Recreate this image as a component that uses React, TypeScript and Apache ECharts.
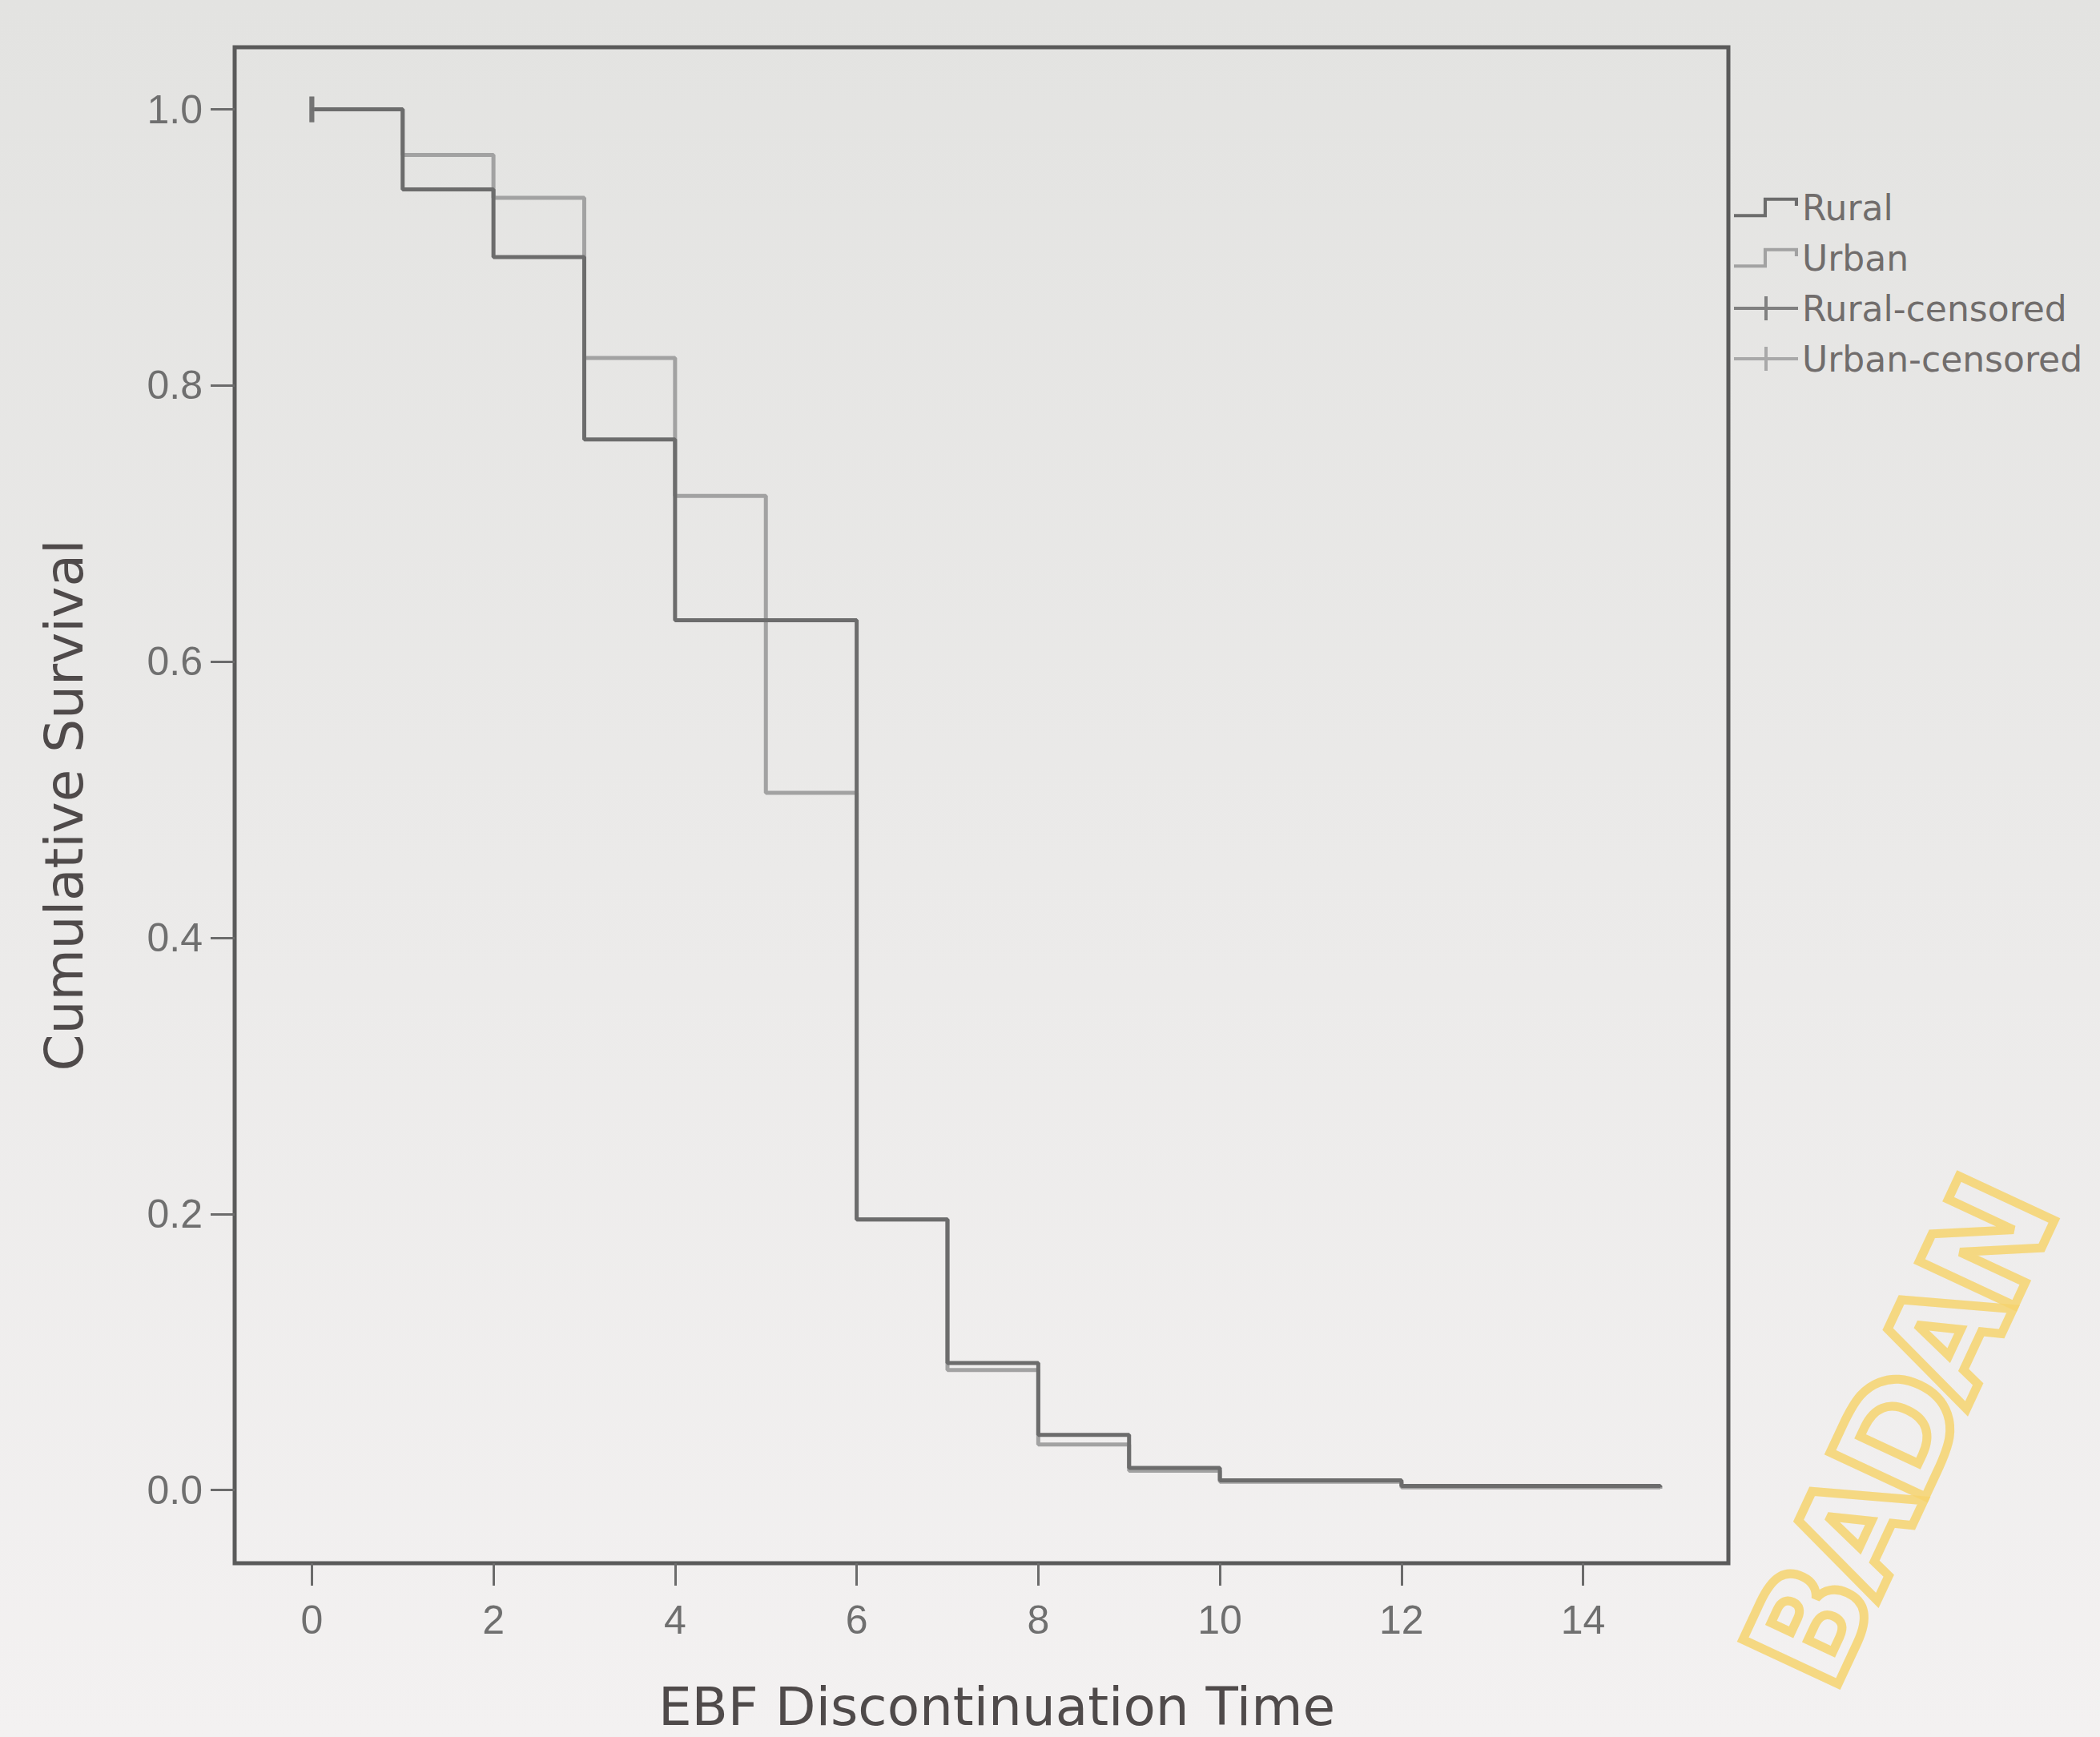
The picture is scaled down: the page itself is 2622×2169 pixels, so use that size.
import React, { useEffect, useRef } from "react";
import * as echarts from "echarts";

// ---- data ----
const ruralTimes = [0, 1, 2, 3, 4, 5, 6, 7, 8, 9, 10, 12, 14.85];
const ruralSurvival = [1.0, 0.942, 0.893, 0.761, 0.63, 0.63, 0.196, 0.092, 0.04, 0.016, 0.007, 0.003, 0.002];
const urbanTimes = [0, 1, 2, 3, 4, 5, 6, 7, 8, 9, 10, 12, 14.85];
const urbanSurvival = [1.0, 0.967, 0.936, 0.82, 0.72, 0.505, 0.196, 0.087, 0.033, 0.014, 0.006, 0.002, 0.001];
const ruralCensoredTimes = [0];
const ruralCensoredSurvival = [1.0];
const urbanCensoredTimes = [0];
const urbanCensoredSurvival = [1.0];
const xTickValues = [0, 2, 4, 6, 8, 10, 12, 14];
const yTickValues = [0, 0.2, 0.4, 0.6, 0.8, 1.0];
const seriesNames = ["Rural", "Urban", "Rural-censored", "Urban-censored"];
const watermarkLetters = ["B", "A", "D", "A", "N"];

const STEP_ICON =
  "path://M0,24 L36,24 L36,4 L78,4 L78,14 L74,14 L74,8 L40,8 L40,28 L0,28 Z";
const CENSOR_ICON =
  "path://M0,13 L80,13 L80,17 L0,17 Z M38,0 L42,0 L42,30 L38,30 Z";

const pairs = (xs: number[], ys: number[]) => xs.map((x, i) => [x, ys[i]]);

function watermark() {
  const angle = (65 * Math.PI) / 180;
  const cx = 2372;
  const cy = 1790;
  const advance = 132;
  const mid = (watermarkLetters.length - 1) / 2;
  return watermarkLetters.map((ch, i) => {
    const off = (i - mid) * advance;
    return {
      type: "text",
      x: cx + off * Math.cos(angle),
      y: cy - off * Math.sin(angle),
      rotation: angle,
      silent: true,
      z: 0,
      style: {
        text: ch,
        font: 'bold 180px "DejaVu Sans"',
        fill: "none",
        stroke: "#f6d46e",
        lineWidth: 11,
        align: "center",
        verticalAlign: "middle",
        opacity: 0.85,
      },
    };
  });
}

export default function App() {
  const ref = useRef<HTMLDivElement>(null);

  useEffect(() => {
    if (!ref.current) return;
    const chart = echarts.init(ref.current, undefined, { renderer: "svg" });
    const ruralColor = "#6c6c6c";
    const urbanColor = "#a2a2a2";
    const tickLabel = {
      fontSize: 50,
      color: "#6f6f6f",
      fontFamily: "Liberation Sans",
    };
    const option: any = {
      animation: false,
      grid: {
        left: 293,
        top: 59,
        width: 1865,
        height: 1901,
        show: true,
        borderColor: "#5a5a5a",
        borderWidth: 5,
        backgroundColor: "transparent",
      },
      legend: {
        orient: "vertical",
        left: 2160,
        top: 232,
        itemWidth: 80,
        itemHeight: 30,
        itemGap: 19,
        itemStyle: { borderWidth: 0 },
        textStyle: { fontSize: 44, color: "#716d6c", fontFamily: "DejaVu Sans" },
        data: [
          { name: seriesNames[0], icon: STEP_ICON },
          { name: seriesNames[1], icon: STEP_ICON },
          { name: seriesNames[2], icon: CENSOR_ICON },
          { name: seriesNames[3], icon: CENSOR_ICON },
        ],
      },
      xAxis: {
        type: "value",
        min: -0.85,
        max: 15.6,
        name: "EBF Discontinuation Time",
        nameLocation: "middle",
        nameGap: 146,
        nameTextStyle: {
          fontSize: 66,
          color: "#4f4a4a",
          fontFamily: "DejaVu Sans",
          padding: [0, 0, 0, 38],
        },
        axisLine: { show: false, onZero: false },
        splitLine: { show: false },
        axisTick: {
          show: true,
          length: 28,
          customValues: xTickValues,
          lineStyle: { color: "#6b6b6b", width: 3 },
        },
        axisLabel: {
          ...tickLabel,
          customValues: xTickValues,
          margin: 46,
        },
      },
      yAxis: {
        type: "value",
        min: -0.053,
        max: 1.045,
        name: "Cumulative Survival",
        nameLocation: "middle",
        nameGap: 180,
        nameTextStyle: { fontSize: 66, color: "#4f4a4a", fontFamily: "DejaVu Sans" },
        axisLine: { show: false, onZero: false },
        splitLine: { show: false },
        axisTick: {
          show: true,
          length: 30,
          customValues: yTickValues,
          lineStyle: { color: "#6b6b6b", width: 3 },
        },
        axisLabel: {
          ...tickLabel,
          customValues: yTickValues,
          margin: 40,
          formatter: (v: number) => v.toFixed(1),
        },
      },
      series: [
        {
          name: seriesNames[0],
          type: "line",
          step: "end",
          symbol: "none",
          data: pairs(ruralTimes, ruralSurvival),
          lineStyle: { color: ruralColor, width: 5 },
          itemStyle: { color: ruralColor },
          z: 4,
        },
        {
          name: seriesNames[1],
          type: "line",
          step: "end",
          symbol: "none",
          data: pairs(urbanTimes, urbanSurvival),
          lineStyle: { color: urbanColor, width: 5 },
          itemStyle: { color: urbanColor },
          z: 3,
        },
        {
          name: seriesNames[2],
          type: "scatter",
          symbol: "rect",
          symbolSize: [6, 32],
          data: pairs(ruralCensoredTimes, ruralCensoredSurvival),
          itemStyle: { color: "#666666" },
          z: 6,
        },
        {
          name: seriesNames[3],
          type: "scatter",
          symbol: "rect",
          symbolSize: [6, 32],
          data: pairs(urbanCensoredTimes, urbanCensoredSurvival),
          itemStyle: { color: "#9a9a9a" },
          z: 5,
        },
      ],
      graphic: watermark(),
    };
    chart.setOption(option);
    return () => chart.dispose();
  }, []);

  return (
    <div
      ref={ref}
      style={{
        position: "absolute",
        left: 0,
        top: 0,
        width: 2622,
        height: 2169,
        background: "linear-gradient(#e3e3e1, #f3f1f1)",
      }}
    />
  );
}
